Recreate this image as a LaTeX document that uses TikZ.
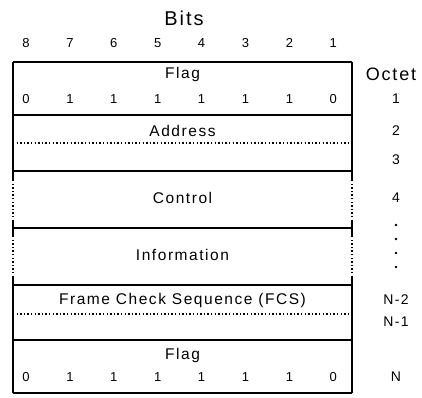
\documentclass[tikz,border=0pt]{standalone}
\usepackage{fontspec}
\setmainfont[LetterSpace=10]{Liberation Sans}
\tikzset{
  bitlbl/.style={font=\fontsize{13}{13}\selectfont},
  fieldlbl/.style={font=\fontsize{15.5}{16}\selectfont},
  octlbl/.style={font=\fontsize{14}{14}\selectfont},
  rule/.style={line width=1.3pt},
  dotrule/.style={line width=1.1pt,dash pattern=on 1.4pt off 2.2pt}
}

\begin{document}
\begin{tikzpicture}[x=1pt,y=-1pt]
  \useasboundingbox (0,0) rectangle (422,397);
  % bit numbers and flag patterns
  \node[font=\fontsize{20}{20}\selectfont] (bits) at (184,18) {Bits};
  \foreach \b/\v [count=\i from 0] in {8/0,7/1,6/1,5/1,4/1,3/1,2/1,1/0}{
    \node[bitlbl] (bit\b) at (26+43.9*\i,43) {\b};
    \node[bitlbl] (fa\b) at (26+43.9*\i,99) {\v};
    \node[bitlbl] (fb\b) at (26+43.9*\i,377) {\v};
  }
  % frame borders
  \foreach \x in {13,352}{
    \draw[rule] (\x,62) -- (\x,180);
    \draw[dotrule] (\x,180) -- (\x,220);
    \draw[rule] (\x,220) -- (\x,236);
    \draw[dotrule] (\x,236) -- (\x,276);
    \draw[rule] (\x,276) -- (\x,393);
  }
  \foreach \y in {62,115,171,228,285,340,393}
    \draw[rule] (13,\y) -- (352,\y);
  \foreach \y in {143,314}
    \draw[dotrule] (13,\y) -- (352,\y);
  % field names
  \node[fieldlbl] (flaga) at (182.5,74) {Flag};
  \node[fieldlbl] (addr) at (182.5,131) {Address};
  \node[fieldlbl] (ctrl) at (182.5,198) {Control};
  \node[fieldlbl] (info) at (182.5,255) {Information};
  \node[fieldlbl] (fcs) at (182.5,300) {Frame Check Sequence (FCS)};
  \node[fieldlbl] (flagb) at (182.5,355) {Flag};
  % octet column
  \node[font=\fontsize{18}{18}\selectfont] (octet) at (391,74) {Octet};
  \foreach \n/\y in {1/99,2/131,3/160,4/198,N-2/300,N-1/322,N/377}
    \node[octlbl] (oct\n) at (396,\y) {\n};
  \foreach \y [count=\k] in {225,239,253,267}
    \fill (396,\y) circle (1.3pt) coordinate (vd\k);
\end{tikzpicture}
\end{document}
